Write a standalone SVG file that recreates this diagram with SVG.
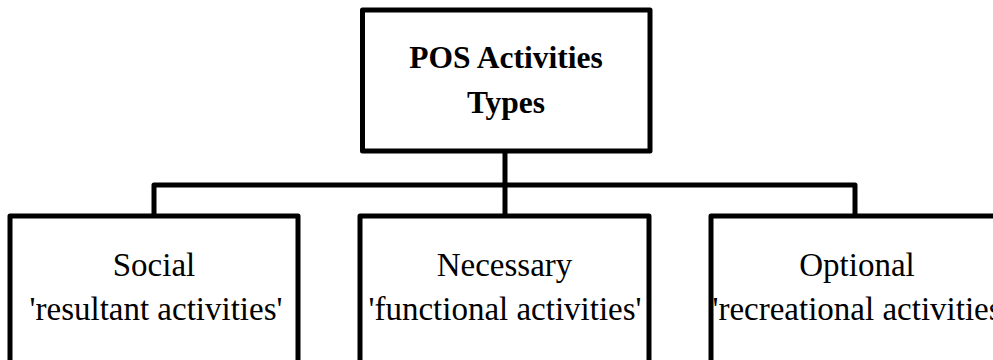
<svg xmlns="http://www.w3.org/2000/svg" width="993" height="360" viewBox="0 0 993 360">
  <style>
    .box { fill: #ffffff; stroke: #000000; stroke-width: 5; stroke-linejoin: round; }
    .wire { fill: none; stroke: #000000; stroke-width: 5; stroke-linejoin: round; }
    .title { font-family: "Liberation Serif", "Times New Roman", serif; font-size: 31.5px; font-weight: bold; fill: #000; text-anchor: middle; }
    .label { font-family: "Liberation Serif", "Times New Roman", serif; font-size: 33px; fill: #000; text-anchor: middle; }
  </style>
  <rect width="993" height="360" fill="#ffffff"/>

  <!-- tree connectors -->
  <g id="connectors">
    <path class="wire" d="M505 151 V216"/>
    <path class="wire" d="M154 216 V185 H855 V216"/>
  </g>

  <!-- root -->
  <g id="root">
    <rect class="box" x="362.5" y="10" width="287.5" height="141"/>
    <text class="title" x="506" y="68">POS Activities</text>
    <text class="title" x="506" y="113">Types</text>
  </g>

  <!-- children -->
  <g id="social">
    <rect class="box" x="10" y="216" width="288" height="170"/>
    <text class="label" x="154" y="276">Social</text>
    <text class="label" x="156" y="320">'resultant activities'</text>
  </g>

  <g id="necessary">
    <rect class="box" x="360" y="216" width="289" height="170"/>
    <text class="label" x="504.5" y="276">Necessary</text>
    <text class="label" x="505" y="320">'functional activities'</text>
  </g>

  <g id="optional">
    <rect class="box" x="711" y="216" width="288" height="170"/>
    <text class="label" x="857" y="276">Optional</text>
    <text class="label" x="860" y="320">'recreational activities'</text>
  </g>
</svg>
